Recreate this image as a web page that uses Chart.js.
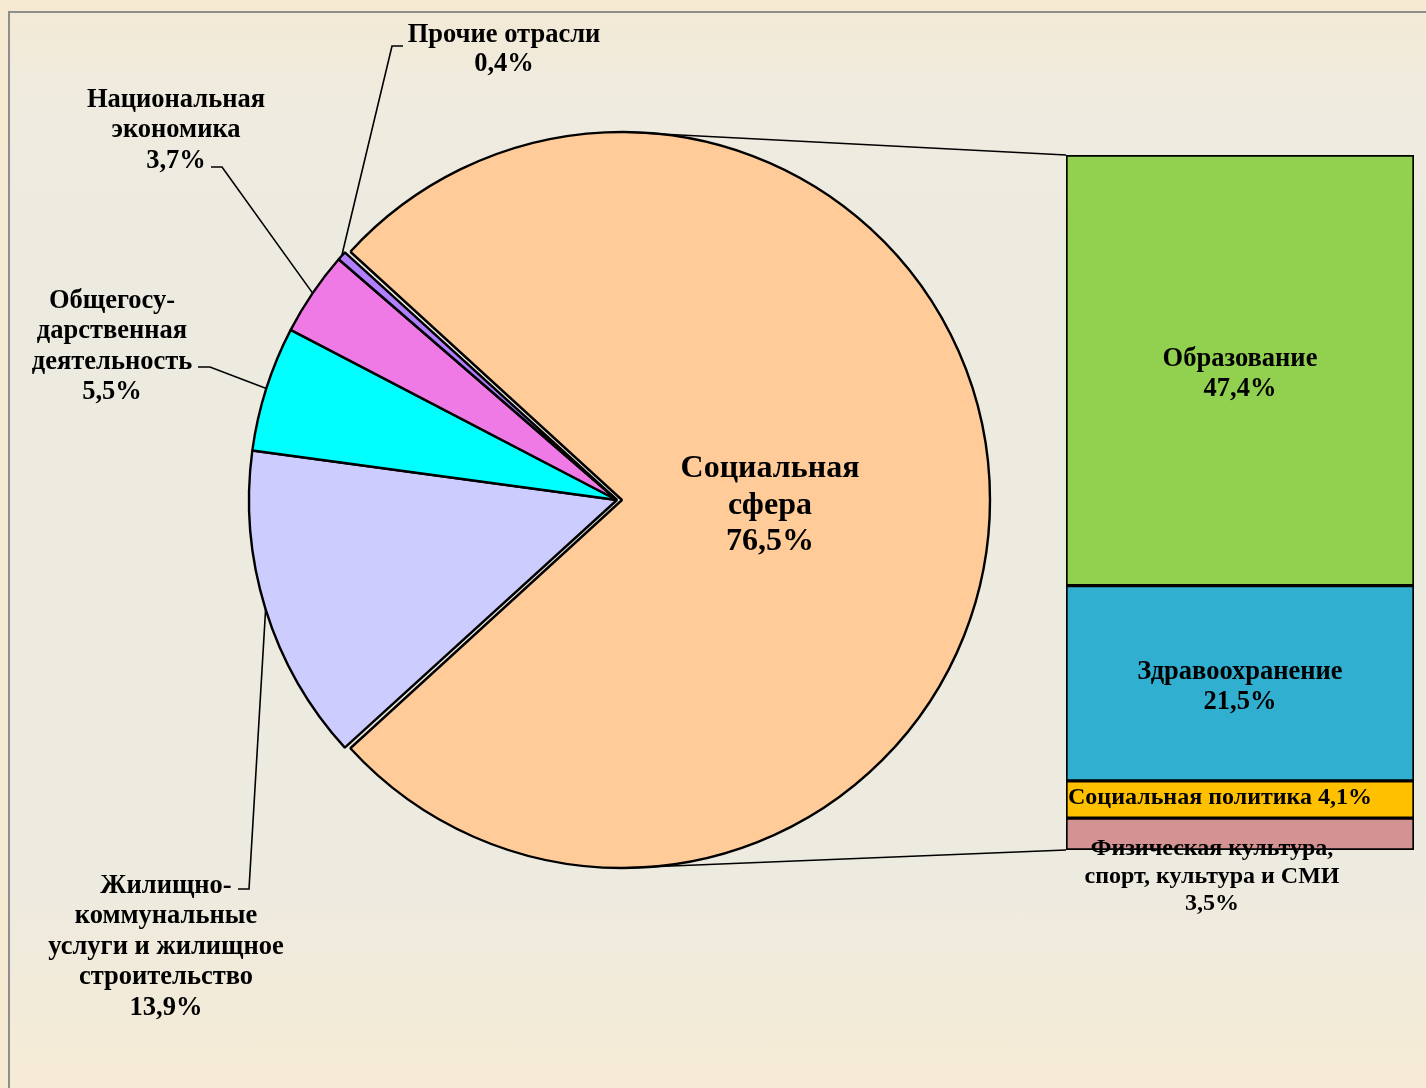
<!DOCTYPE html>
<html>
<head>
<meta charset="utf-8">
<script src="https://cdn.jsdelivr.net/npm/chart.js@4/dist/chart.umd.min.js"></script>
<style>
  html, body { margin: 0; padding: 0; }
  body { width: 1426px; height: 1088px; overflow: hidden; position: relative;
    background: #f6ead2; }
  #frame { position: absolute; left: 8px; top: 11px; width: 1440px; height: 1100px;
    border-left: 2px solid #8e8e8e; border-top: 2px solid #8e8e8e;
    background: linear-gradient(to bottom, #f3ead6 0%, #efebdf 8%, #edeae0 20%, #edeae0 78%, #f3ebd8 92%, #f8ecd4 100%); }
  canvas { position: absolute; left: 0; top: 0; }
</style>
</head>
<body>
<div id="frame"></div>
<canvas id="pie" width="1426" height="1088"></canvas>
<canvas id="bar" width="1426" height="1088"></canvas>
<script>
// ---- data ----
const pieCategories = ['Социальная сфера', 'Жилищно-коммунальные услуги и жилищное строительство', 'Общегосударственная деятельность', 'Национальная экономика', 'Прочие отрасли'];
const pieValues = [76.5, 13.9, 5.5, 3.7, 0.4];
const pieColors = ['#ffcc99', '#ccccff', '#00ffff', '#ef7ae6', '#b27fff'];

const barCategories = ['Образование', 'Здравоохранение', 'Социальная политика', 'Физическая культура, спорт, культура и СМИ'];
const barValues = [47.4, 21.5, 4.1, 3.5];
const barColors = ['#92d050', '#31afd0', '#ffc000', '#d49392'];

// wrapped label text (as in the picture)
const pieLabelLines = [
  ['Социальная', 'сфера'],
  ['Жилищно-', 'коммунальные', 'услуги и жилищное', 'строительство'],
  ['Общегосу-', 'дарственная', 'деятельность'],
  ['Национальная', 'экономика'],
  ['Прочие отрасли']
];
const barLabelLines = [
  ['Образование'],
  ['Здравоохранение'],
  ['Социальная политика'],
  ['Физическая культура,', 'спорт, культура и СМИ']
];

const fmt = v => v.toFixed(1).replace('.', ',') + '%';

// ---- layout (positions only) ----
const FONT = '"Liberation Serif", "Times New Roman", serif';
const SLICE_OFFSET = 20; // Chart.js shifts an arc by offset/4 px
const pieLabelLayout = [
  { cx: 770, y: 469, lh: 36.5, size: 32, inside: true },
  { cx: 166, y: 886, lh: 30.5, size: 26.5, elbow: [249, 889], end: [238, 889] },
  { cx: 112, y: 301, lh: 30.5, size: 26.5, elbow: [210, 367], end: [198, 367] },
  { cx: 176, y: 100, lh: 30.5, size: 26.5, elbow: [222, 167], end: [211, 167] },
  { cx: 504, y: 35, lh: 29.5, size: 26.5, elbow: [392, 46], end: [403, 46] }
];

function drawLines(ctx, lines, cx, y, lh, size, align) {
  ctx.save();
  ctx.fillStyle = '#000';
  ctx.font = 'bold ' + size + 'px ' + FONT;
  ctx.textAlign = align || 'center';
  ctx.textBaseline = 'middle';
  lines.forEach((t, i) => ctx.fillText(t, cx, y + i * lh));
  ctx.restore();
}

const pieOffsets = [SLICE_OFFSET, 0, 0, 0, 0];

const pieLabelPlugin = {
  id: 'pieLabels',
  afterDatasetUpdate(chart, args) {
    // keep the exploded slice at the same radius as the others
    const meta = args.meta;
    const R = meta.controller.outerRadius;
    meta.data.forEach((arc, i) => {
      const off = (pieOffsets[i] || 0) / 4;
      arc.outerRadius = R - off;
    });
  },
  afterDatasetsDraw(chart) {
    const ctx = chart.ctx;
    const arcs = chart.getDatasetMeta(0).data;
    const R = chart.getDatasetMeta(0).controller.outerRadius;
    arcs.forEach((arc, i) => {
      const L = pieLabelLayout[i];
      const lines = pieLabelLines[i].concat([fmt(pieValues[i])]);
      if (!L.inside) {
        const mid = (arc.startAngle + arc.endAngle) / 2;
        const px = arc.x + Math.cos(mid) * R;
        const py = arc.y + Math.sin(mid) * R;
        ctx.save();
        ctx.strokeStyle = '#000';
        ctx.lineWidth = 1.6;
        ctx.beginPath();
        ctx.moveTo(px, py);
        ctx.lineTo(L.elbow[0], L.elbow[1]);
        ctx.lineTo(L.end[0], L.end[1]);
        ctx.stroke();
        ctx.restore();
      }
      drawLines(ctx, lines, L.cx, L.y, L.lh, L.size);
    });
  }
};

const pieChart = new Chart(document.getElementById('pie'), {
  type: 'pie',
  data: {
    labels: pieCategories,
    datasets: [{
      data: pieValues,
      backgroundColor: pieColors,
      borderColor: '#000',
      borderWidth: 2.4,
      offset: pieOffsets
    }]
  },
  options: {
    responsive: false,
    animation: false,
    events: [],
    rotation: -47.7,
    radius: 368,
    layout: { padding: { left: 217, right: 409, top: 100, bottom: 188 } },
    plugins: { legend: { display: false }, tooltip: { enabled: false } }
  },
  plugins: [pieLabelPlugin]
});

const barLabelLayout = [
  { dx: 0, dy: -11, lh: 30, size: 26.5 },
  { dx: 0, dy: -11, lh: 30, size: 26.5 },
  { left: true, dy: -2, lh: 30, size: 24 },
  { dx: -28, dy: 15, lh: 27.5, size: 24 }
];

const nBars = barValues.length;

const barPlugin = {
  id: 'barExtras',
  afterDatasetsDraw(chart) {
    const ctx = chart.ctx;
    // datasets were added bottom-first, so segment i lives in dataset n-1-i
    const bars = barValues.map((v, i) => chart.getDatasetMeta(nBars - 1 - i).data[0]);
    // connector lines from the exploded pie slice
    const arc = pieChart.getDatasetMeta(0).data[0];
    const mid = (arc.startAngle + arc.endAngle) / 2;
    const sh = SLICE_OFFSET / 4;
    const R = arc.outerRadius + sh;
    const ox = arc.x + Math.cos(mid) * sh, oy = arc.y + Math.sin(mid) * sh;
    const top = bars[0], bot = bars[nBars - 1];
    const left = top.x - top.width / 2;
    ctx.save();
    ctx.strokeStyle = '#000';
    ctx.lineWidth = 1.6;
    ctx.beginPath();
    ctx.moveTo(ox, oy - R);
    ctx.lineTo(left, top.y);
    ctx.moveTo(ox, oy + R);
    ctx.lineTo(left, bot.base);
    ctx.stroke();
    ctx.restore();
    bars.forEach((b, i) => {
      const L = barLabelLayout[i];
      const lines = barLabelLines[i].slice();
      if (L.left) {
        lines[lines.length - 1] += ' ' + fmt(barValues[i]);
      } else {
        lines.push(fmt(barValues[i]));
      }
      const cy = (b.y + b.base) / 2 + L.dy;
      if (L.left) drawLines(ctx, lines, b.x - b.width / 2 + 2, cy, L.lh, L.size, 'left');
      else drawLines(ctx, lines, b.x + L.dx, cy, L.lh, L.size);
    });
  }
};

const barDatasets = [];
for (let i = nBars - 1; i >= 0; i--) {
  barDatasets.push({
    label: barCategories[i],
    data: [barValues[i]],
    backgroundColor: barColors[i],
    borderColor: '#000',
    borderWidth: 2,
    borderSkipped: false,
    barPercentage: 1,
    categoryPercentage: 1
  });
}

new Chart(document.getElementById('bar'), {
  type: 'bar',
  data: { labels: [''], datasets: barDatasets },
  options: {
    responsive: false,
    animation: false,
    events: [],
    layout: { padding: { left: 1066, right: 12, top: 155, bottom: 238 } },
    scales: {
      x: { display: false, stacked: true },
      y: { display: false, stacked: true, min: 0, max: barValues.reduce((a, b) => a + b, 0) }
    },
    plugins: { legend: { display: false }, tooltip: { enabled: false } }
  },
  plugins: [barPlugin]
});
</script>
</body>
</html>
